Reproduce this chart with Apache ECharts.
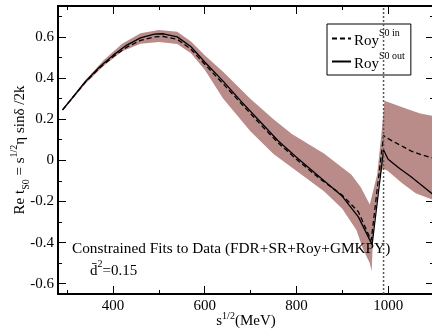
<!DOCTYPE html>
<html><head><meta charset="utf-8">
<script src="https://cdn.jsdelivr.net/npm/echarts@6/dist/echarts.min.js"></script>
<style>html,body{margin:0;padding:0;background:#fff}#c{width:432px;height:329px}</style>
</head><body><div id="c"></div>
<script>
// ---- tick values ----
const xMajorTicks = [400, 600, 800, 1000];
const xMinorTicks = [300, 500, 700, 900];
const yMajorTicks = [-0.6, -0.4, -0.2, 0, 0.2, 0.4, 0.6];
const yMinorTicks = [-0.5, -0.3, -0.1, 0.1, 0.3, 0.5, 0.7];

// ---- Roy S0 out (solid) ----
const outX = [290, 310, 340, 370, 400, 430, 460, 490, 510, 540, 570, 600, 640, 680, 720, 760, 800, 850, 900, 935, 965, 990, 1000, 1025, 1050, 1075, 1100];
const outY = [0.245, 0.30, 0.383, 0.452, 0.51, 0.56, 0.595, 0.613, 0.615, 0.600, 0.552, 0.478, 0.385, 0.285, 0.19, 0.095, 0.015, -0.08, -0.175, -0.275, -0.41, 0.05, 0.005, -0.04, -0.08, -0.125, -0.17];

// ---- Roy S0 in (dashed) ----
const inX = [290, 310, 340, 370, 400, 430, 460, 490, 510, 540, 570, 600, 640, 680, 720, 760, 800, 850, 900, 935, 963, 990, 1000, 1025, 1050, 1075, 1100];
const inY = [0.245, 0.30, 0.38, 0.448, 0.503, 0.55, 0.583, 0.600, 0.602, 0.588, 0.54, 0.467, 0.372, 0.275, 0.178, 0.085, 0.005, -0.088, -0.17, -0.25, -0.39, 0.12, 0.105, 0.075, 0.045, 0.025, 0.01];

// ---- uncertainty band ----
const bandUpperX = [290, 340, 380, 420, 460, 500, 540, 570, 600, 640, 700, 750, 790, 860, 920, 940, 960, 976, 985, 992, 1040, 1070, 1100];
const bandUpperY = [0.25, 0.39, 0.487, 0.567, 0.617, 0.633, 0.625, 0.578, 0.51, 0.43, 0.298, 0.2, 0.128, 0.033, -0.07, -0.13, -0.215, -0.07, 0.12, 0.29, 0.25, 0.228, 0.215];
const bandLowerX = [290, 340, 380, 420, 460, 500, 540, 570, 600, 640, 700, 750, 790, 860, 900, 931, 945, 960, 964, 968, 980, 988, 998, 1030, 1060, 1100];
const bandLowerY = [0.24, 0.373, 0.46, 0.53, 0.566, 0.575, 0.565, 0.52, 0.44, 0.30, 0.14, 0.03, -0.035, -0.15, -0.235, -0.34, -0.43, -0.50, -0.54, -0.33, -0.09, -0.04, -0.05, -0.11, -0.16, -0.195];

// ---- threshold line ----
const thresholdX = 990;

const xMin = 280, xMax = 1100, yMin = -0.65, yMax = 0.75;

const zip = (xs, ys) => xs.map((x, i) => [x, ys[i]]);
const bandPolygon = zip(bandUpperX, bandUpperY).concat(zip(bandLowerX, bandLowerY).reverse());

const serif = 'Liberation Serif, Times New Roman, serif';
const black = '#000';

function xAx(pos, ticks, len, withLabel) {
  return {
    type: 'value', position: pos, min: xMin, max: xMax,
    axisLine: { show: true, onZero: false, lineStyle: { color: black, width: 2 } },
    axisTick: { show: true, inside: true, length: len, customValues: ticks, lineStyle: { color: black, width: 1 } },
    axisLabel: withLabel ? { show: true, customValues: ticks, fontFamily: serif, fontSize: 15, color: black, margin: 5,
      formatter: v => String(v) } : { show: false },
    splitLine: { show: false }
  };
}
function yAx(pos, ticks, len, withLabel) {
  return {
    type: 'value', position: pos, min: yMin, max: yMax,
    axisLine: { show: true, onZero: false, lineStyle: { color: black, width: 2 } },
    axisTick: { show: true, inside: true, length: len, customValues: ticks, lineStyle: { color: black, width: 1 } },
    axisLabel: withLabel ? { show: true, customValues: ticks, fontFamily: serif, fontSize: 15, color: black, margin: 4,
      formatter: v => (Math.abs(v) < 1e-9 ? '0' : String(+v.toFixed(1))) } : { show: false },
    splitLine: { show: false }
  };
}

const xAxes = [xAx('bottom', xMajorTicks, 8, true), xAx('bottom', xMinorTicks, 4, false),
               xAx('top', xMajorTicks, 8, false), xAx('top', xMinorTicks, 4, false)];
xAxes[0].name = '{m|s}{s|1/2}{m|(MeV)}';
xAxes[0].nameLocation = 'middle';
xAxes[0].nameGap = 17;
xAxes[0].nameMoveOverlap = false;
xAxes[0].nameTextStyle = { fontFamily: serif, color: black, verticalAlign: 'top', rich: {
  m: { fontFamily: serif, fontSize: 15, color: black, lineHeight: 18, verticalAlign: 'bottom' },
  s: { fontFamily: serif, fontSize: 10, color: black, lineHeight: 18, verticalAlign: 'top' } } };

const yAxes = [yAx('left', yMajorTicks, 8, true), yAx('left', yMinorTicks, 4, false),
               yAx('right', yMajorTicks, 8, false), yAx('right', yMinorTicks, 4, false)];

const chart = echarts.init(document.getElementById('c'), null, { renderer: 'canvas' });
chart.setOption({
  animation: false,
  backgroundColor: '#fff',
  grid: { left: 58, top: 6, width: 376, height: 288, containLabel: false, outerBoundsMode: 'none' },
  xAxis: xAxes,
  yAxis: yAxes,
  legend: {
    left: 327, top: 24, orient: 'vertical',
    backgroundColor: '#fff', borderColor: black, borderWidth: 1, borderRadius: 0,
    padding: [4, 6, 3, 4], itemGap: 2, itemWidth: 19, itemHeight: 12,
    itemStyle: { opacity: 0 },
    data: ['Roy S0 in', 'Roy S0 out'],
    formatter: n => n === 'Roy S0 in' ? '{b|Roy}{s|S0 in}' : '{b|Roy}{s|S0 out}',
    textStyle: { fontFamily: serif, color: black, padding: [0, 0, 0, -2], rich: {
      b: { fontFamily: serif, fontSize: 15, color: black, lineHeight: 21, verticalAlign: 'bottom' },
      s: { fontFamily: serif, fontSize: 10, color: black, lineHeight: 21, verticalAlign: 'top' } } }
  },
  graphic: [
    { type: 'text', x: 20, y: 150, rotation: Math.PI / 2, z: 10,
      style: { text: '{m|Re t}{sb|S0}{m| = s}{sp|1/2}{m|η sinδ /2k}', align: 'center', verticalAlign: 'middle',
        rich: {
          m: { fontFamily: serif, fontSize: 15, fill: black, lineHeight: 22, verticalAlign: 'middle' },
          sb: { fontFamily: serif, fontSize: 10, fill: black, lineHeight: 22, verticalAlign: 'bottom' },
          sp: { fontFamily: serif, fontSize: 10, fill: black, lineHeight: 22, verticalAlign: 'top' } } } },
    { type: 'text', left: 72, top: 241, z: 10,
      style: { text: 'Constrained Fits to Data (FDR+SR+Roy+GMKPY)', font: '15.3px ' + serif, fill: black } },
    { type: 'text', left: 90, top: 259, z: 10,
      style: { text: '{m|d\u0304}{s|2}{m|=0.15}',
        rich: {
          m: { fontFamily: serif, fontSize: 15, fill: black, lineHeight: 20, verticalAlign: 'bottom' },
          s: { fontFamily: serif, fontSize: 10, fill: black, lineHeight: 20, verticalAlign: 'top' } } } }
  ],
  series: [
    { type: 'custom', name: 'band', xAxisIndex: 0, yAxisIndex: 0, z: 1, silent: true,
      data: bandPolygon,
      renderItem: (params, api) => {
        if (params.dataIndex !== 0) return null;
        return { type: 'polygon', shape: { points: bandPolygon.map(p => api.coord(p)) },
          style: { fill: '#b98b89' } };
      } },
    { type: 'line', name: 'Roy S0 in', data: zip(inX, inY), showSymbol: false, symbol: 'none', z: 3,
      lineStyle: { color: black, width: 1.3, type: [5, 3] }, itemStyle: { color: black } },
    { type: 'line', name: 'Roy S0 out', data: zip(outX, outY), showSymbol: false, symbol: 'none', z: 4,
      lineStyle: { color: black, width: 1.3 }, itemStyle: { color: black } },
    { type: 'line', name: 'threshold', data: [[thresholdX, yMin], [thresholdX, yMax]], showSymbol: false, symbol: 'none', z: 5,
      lineStyle: { color: '#555', width: 1.5, type: [2, 2] } }
  ]
});
</script></body></html>
